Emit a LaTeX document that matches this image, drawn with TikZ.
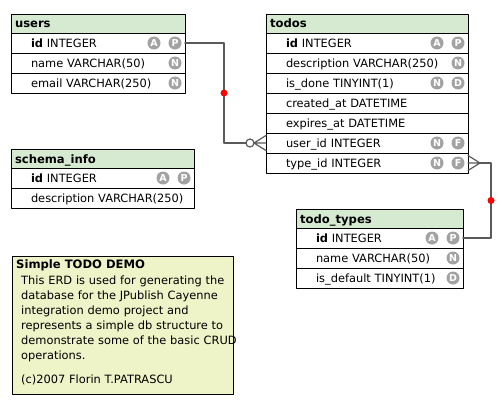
\documentclass[tikz,border=0pt]{standalone}
\usepackage{fontspec}
\setmainfont{DejaVu Sans}
\usepackage{tikz}
\usetikzlibrary{positioning}
\usetikzlibrary{calc}

\definecolor{hdrgreen}{HTML}{D6EAD2}
\definecolor{notegreen}{HTML}{EEF3C8}
\definecolor{taggray}{HTML}{A2A2A2}
\definecolor{relgray}{HTML}{5A5A5A}

\tikzset{
  hdr/.style={draw, fill=hdrgreen, anchor=north west, outer sep=0pt, inner xsep=4pt, inner ysep=0pt,
    minimum height=19pt, text width=#1, align=left, text height=11pt, text depth=2pt,
    font=\fontsize{11.6pt}{14pt}\selectfont\bfseries},
  fld/.style={draw, fill=white, outer sep=0pt, inner xsep=4pt, inner ysep=0pt,
    minimum height=20pt, text width=#1, align=left, text height=11pt, text depth=2pt,
    font=\fontsize{11.4pt}{14pt}\selectfont, execute at begin node={\hspace*{16pt}}},
  tag/.style={circle, fill=taggray, text=white, inner sep=0pt, minimum size=13pt, outer sep=0pt,
    font=\fontsize{9.5pt}{10pt}\selectfont\bfseries},
  rel/.style={draw=relgray, line width=2pt},
  foot/.style={draw=relgray, line width=1.2pt},
  dot/.style={fill=red}
}

\begin{document}
\begin{tikzpicture}[line cap=round,line join=round,x=1pt,y=-1pt]
\useasboundingbox (0,0) rectangle (502,404);
\fill[white] (0,0) rectangle (502,404);

% users
\node[hdr=166pt] (users) at (11,14) {users};
\node[fld=166pt, below=0pt of users] (users-id) {\textbf{id} INTEGER};
\node[fld=166pt, below=0pt of users-id] (users-name) {name VARCHAR(50)};
\node[fld=166pt, below=0pt of users-name] (users-mail) {email VARCHAR(250)};
\node[tag, left=3.5pt of users-id.east] (users-id-p) {P};
\node[tag, left=8pt of users-id-p] (users-id-a) {A};
\node[tag, left=3.5pt of users-name.east] (users-name-n) {N};
\node[tag, left=3.5pt of users-mail.east] (users-mail-n) {N};

% todos
\node[hdr=194pt] (todos) at (266,14) {todos};
\node[fld=194pt, below=0pt of todos] (todos-id) {\textbf{id} INTEGER};
\node[fld=194pt, below=0pt of todos-id] (todos-desc) {description VARCHAR(250)};
\node[fld=194pt, below=0pt of todos-desc] (todos-done) {is\_done TINYINT(1)};
\node[fld=194pt, below=0pt of todos-done] (todos-cre) {created\_at DATETIME};
\node[fld=194pt, below=0pt of todos-cre] (todos-exp) {expires\_at DATETIME};
\node[fld=194pt, below=0pt of todos-exp] (todos-uid) {user\_id INTEGER};
\node[fld=194pt, below=0pt of todos-uid] (todos-tid) {type\_id INTEGER};
\node[tag, left=3.5pt of todos-id.east] (todos-id-p) {P};
\node[tag, left=8pt of todos-id-p] (todos-id-a) {A};
\node[tag, left=3.5pt of todos-desc.east] (todos-desc-n) {N};
\node[tag, left=3.5pt of todos-done.east] (todos-done-d) {D};
\node[tag, left=8pt of todos-done-d] (todos-done-n) {N};
\node[tag, left=3.5pt of todos-uid.east] (todos-uid-f) {F};
\node[tag, left=8pt of todos-uid-f] (todos-uid-n) {N};
\node[tag, left=3.5pt of todos-tid.east] (todos-tid-f) {F};
\node[tag, left=8pt of todos-tid-f] (todos-tid-n) {N};

% schema_info
\node[hdr=175pt] (schema) at (11,149) {schema\_info};
\node[fld=175pt, below=0pt of schema] (schema-id) {\textbf{id} INTEGER};
\node[fld=175pt, below=0pt of schema-id] (schema-desc) {description VARCHAR(250)};
\node[tag, left=3.5pt of schema-id.east] (schema-id-p) {P};
\node[tag, left=8pt of schema-id-p] (schema-id-a) {A};

% todo_types
\node[hdr=159pt] (types) at (296,209) {todo\_types};
\node[fld=159pt, below=0pt of types] (types-id) {\textbf{id} INTEGER};
\node[fld=159pt, below=0pt of types-id] (types-name) {name VARCHAR(50)};
\node[fld=159pt, below=0pt of types-name] (types-def) {is\_default TINYINT(1)};
\node[tag, left=3.5pt of types-id.east] (types-id-p) {P};
\node[tag, left=8pt of types-id-p] (types-id-a) {A};
\node[tag, left=3.5pt of types-name.east] (types-name-n) {N};
\node[tag, left=3.5pt of types-def.east] (types-def-d) {D};

% users -> todos.user_id
\coordinate (r1) at ($(users-id.east)+(39,0)$);
\coordinate (c1) at ($(todos-uid.west)+(-16,0)$);
\coordinate (f1) at ($(todos-uid.west)+(-12,0)$);
\draw[rel] (users-id.east) -- (r1) |- ($(c1)+(-4,0)$);
\draw[foot] (c1) circle (4pt);
\draw[foot] ($(todos-uid.west)+(0,-7.5)$) -- (f1) -- ($(todos-uid.west)+(0,7.5)$) (f1) -- (todos-uid.west);
\fill[dot] ($(r1)!0.5!(r1 |- todos-uid.west)$) circle (3.5pt);

% todos.type_id -> todo_types
\coordinate (f2) at ($(todos-tid.east)+(12,0)$);
\coordinate (r2) at ($(todos-tid.east)+(23,0)$);
\draw[rel] (f2) -- (r2) |- (types-id.east);
\draw[foot] ($(todos-tid.east)+(0,-7.5)$) -- (f2) -- ($(todos-tid.east)+(0,7.5)$) (f2) -- (todos-tid.east);
\fill[dot] ($(r2)!0.5!(r2 |- types-id.east)$) circle (3.5pt);

% note
\node[draw, fill=notegreen, anchor=north west, outer sep=0pt, minimum width=221pt, minimum height=138pt] (note) at (12,256) {};
\node[anchor=base west, inner sep=0pt, font=\fontsize{11.6pt}{14pt}\selectfont\bfseries] (note-hd) at (16,268) {Simple TODO DEMO};
\node[anchor=base west, inner sep=0pt, text width=240pt, align=left, font=\fontsize{11.4pt}{15pt}\selectfont] (note-body) at (21,284)
  {This ERD is used for generating the\\
   database for the JPublish Cayenne\\
   integration demo project and\\
   represents a simple db structure to\\
   demonstrate some of the basic CRUD\\
   operations.\\[9.4pt]
   (c)2007 Florin T.PATRASCU};
\end{tikzpicture}
\end{document}
